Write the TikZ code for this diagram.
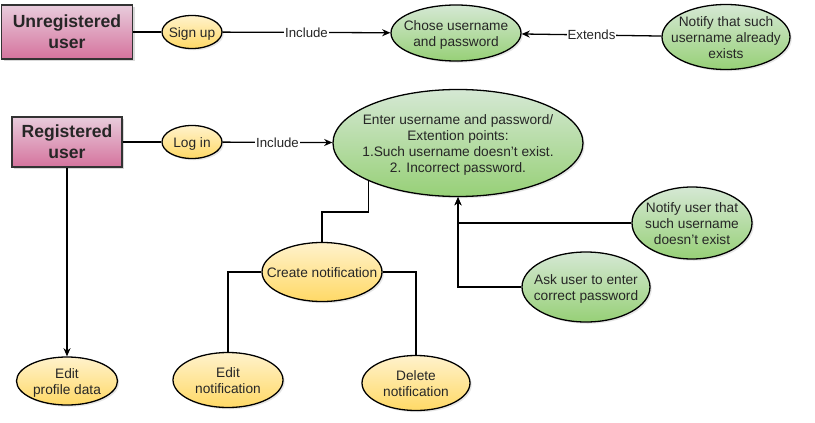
\documentclass[tikz,border=0pt]{standalone}
\usepackage{fontspec}
\setmainfont{Liberation Sans}
\usetikzlibrary{shapes.geometric,arrows.meta,shadows}

% text of a use case, kept out of the ellipse size
\newcommand{\uctext}[1]{\makebox[0pt]{\raisebox{-0.45em}[0pt][0pt]{\begin{tabular}{@{}c@{}}#1\end{tabular}}}}

\begin{document}
\begin{tikzpicture}[x=0.03cm,y=-0.03cm,>={Stealth[length=7pt,width=6pt]},line width=1.1pt,
actor node/.style={rectangle,draw=black!80,line width=1.5pt,top color=pink1,bottom color=pink2,
  text=black!85,align=center,font=\bfseries\fontsize{15}{17.8}\selectfont,drop shadow={shadow xshift=2pt,shadow yshift=-2pt,opacity=0.3}},
use node/.style={ellipse,draw=black,line width=1.1pt,inner sep=0pt,text=black!85,
  font=\fontsize{11.7}{13.6}\selectfont,drop shadow={shadow xshift=1.5pt,shadow yshift=-1.5pt,opacity=0.2}},
yellow node/.style={use node,top color=yellow1,bottom color=yellow2},
green node/.style={use node,top color=green1,bottom color=green2},
tag/.style={fill=white,inner sep=0.6pt,text=black!85,font=\fontsize{11.3}{13}\selectfont}]
  \definecolor{pink1}{HTML}{E8CCDC}
  \definecolor{pink2}{HTML}{D5739D}
  \definecolor{yellow1}{HTML}{FFF2CC}
  \definecolor{yellow2}{HTML}{FFD966}
  \definecolor{green1}{HTML}{D5E8D4}
  \definecolor{green2}{HTML}{97D077}

  \useasboundingbox (0,0) rectangle (815,423);

  % sign up part
  \node[actor node,minimum width=3.93cm,minimum height=1.62cm] (unreg) at (67,32) {Unregistered\\user};
  \node[yellow node,minimum width=1.8cm,minimum height=0.99cm] (signup) at (192,32) {\uctext{Sign up}};
  \node[green node,minimum width=3.9cm,minimum height=1.68cm] (chose) at (456,33) {\uctext{Chose username\\and password}};
  \node[green node,minimum width=3.84cm,minimum height=1.95cm] (exists) at (726,37) {\uctext{Notify that such\\username already\\exists}};

  % log in part
  \node[actor node,minimum width=3.3cm,minimum height=1.5cm] (reg) at (67,142) {Registered\\user};
  \node[yellow node,minimum width=1.8cm,minimum height=0.99cm] (login) at (192,142) {\uctext{Log in}};
  \node[green node,minimum width=7.5cm,minimum height=3.21cm] (enter) at (458,143)
    {\uctext{Enter username and password/\\Extention points:\\1.Such username doesn't exist.\\2. Incorrect password.}};
  \node[green node,minimum width=3.6cm,minimum height=2.16cm] (nouser) at (692,223) {\uctext{Notify user that\\such username\\doesn't exist}};
  \node[green node,minimum width=3.84cm,minimum height=2.1cm] (askpass) at (586,287) {\uctext{Ask user to enter\\correct password}};
  \node[yellow node,minimum width=3.6cm,minimum height=1.77cm] (create) at (322,272) {\uctext{Create notification}};
  \node[yellow node,minimum width=3.3cm,minimum height=1.65cm] (editnote) at (228,380) {\uctext{Edit\\notification}};
  \node[yellow node,minimum width=3.24cm,minimum height=1.65cm] (delnote) at (416,383) {\uctext{Delete\\notification}};
  \node[yellow node,minimum width=3.03cm,minimum height=1.44cm] (editprof) at (67,381) {\uctext{Edit\\profile data}};

  \draw (unreg) -- (signup);
  \draw[->] (signup) -- node[tag] {Include} (chose);
  \draw[->] (exists) -- node[tag] {Extends} (chose);

  \draw (reg) -- (login);
  \draw[->] (login) -- node[tag] {Include} (enter);
  \draw[->] (reg) -- (editprof);
  \draw (enter.203) -- ++(0,31) -| (create);
  \draw (create.west) -| (editnote);
  \draw (create.east) -| (delnote);
  \draw[->] (nouser) -| (enter);
  \draw[->] (askpass) -| (enter);
\end{tikzpicture}
\end{document}
